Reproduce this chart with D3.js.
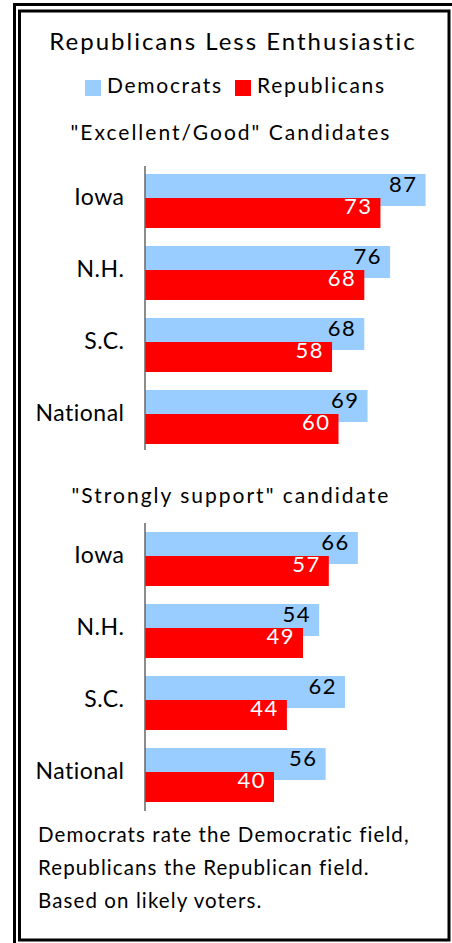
<!DOCTYPE html>
<html>
<head>
<meta charset="utf-8">
<script src="https://cdn.jsdelivr.net/npm/d3@7"></script>
<style>
  html, body { margin: 0; padding: 0; background: #fff; }
  svg { display: block; }
  text { font-family: Lato, "Open Sans", sans-serif; fill: #000; }
</style>
</head>
<body>
<svg id="chart" width="452" height="943"></svg>
<script>
// ---- Data ----
const title = "Republicans Less Enthusiastic";
const seriesNames = ["Democrats", "Republicans"];
const categories = ["Iowa", "N.H.", "S.C.", "National"];
const panelTitles = ["\"Excellent/Good\" Candidates", "\"Strongly support\" candidate"];
const excellentDem = [87, 76, 68, 69];
const excellentRep = [73, 68, 58, 60];
const stronglyDem = [66, 54, 62, 56];
const stronglyRep = [57, 49, 44, 40];
const notes = [
  "Democrats rate the Democratic field,",
  "Republicans the Republican field.",
  "Based on likely voters."
];

// ---- Layout / style ----
const colors = { Democrats: "#99CCFF", Republicans: "#FF0000" };
const labelColors = { Democrats: "#000", Republicans: "#fff" };
const svg = d3.select("#chart");

// Frame (double border)
svg.append("path")
  .attr("d", "M14.5,943 V4.5 H452")
  .attr("fill", "none").attr("stroke", "#000").attr("stroke-width", 3);
svg.append("rect")
  .attr("x", 19.5).attr("y", 11).attr("width", 429.5).attr("height", 929)
  .attr("fill", "#fff").attr("stroke", "#000").attr("stroke-width", 3);

// Title
svg.append("text")
  .attr("x", 233).attr("y", 50)
  .attr("text-anchor", "middle")
  .style("font-size", "24px")
  .style("letter-spacing", "2px")
  .text(title);

// Legend
const legendItems = [
  { name: seriesNames[0], x: 85 },
  { name: seriesNames[1], x: 235 }
];
const lg = svg.append("g");
legendItems.forEach(it => {
  lg.append("rect").attr("x", it.x).attr("y", 80).attr("width", 16).attr("height", 16)
    .attr("fill", colors[it.name]);
  lg.append("text").attr("x", it.x + 22).attr("y", 93)
    .style("font-size", "21px")
    .style("letter-spacing", "1.7px")
    .text(it.name);
});

// x scale shared
const x = d3.scaleLinear().domain([0, 100]).range([145, 467.5]);

const panels = [
  { title: panelTitles[0], titleY: 140, axisTop: 166, axisBottom: 450, bandTop: 170, dem: excellentDem, rep: excellentRep },
  { title: panelTitles[1], titleY: 503, axisTop: 523, axisBottom: 811, bandTop: 528, dem: stronglyDem, rep: stronglyRep }
];

panels.forEach(p => {
  const g = svg.append("g");
  g.append("text")
    .attr("x", 231).attr("y", p.titleY)
    .attr("text-anchor", "middle")
    .style("font-size", "21px")
    .style("letter-spacing", "2px")
    .text(p.title);

  const y = d3.scaleBand().domain(categories)
    .range([p.bandTop, p.bandTop + 72 * categories.length]);

  const rows = categories.map((c, i) => ({ cat: c, Democrats: p.dem[i], Republicans: p.rep[i] }));

  const series = [
    { name: "Democrats", off: 4, h: 32, labelOff: 22 },
    { name: "Republicans", off: 28, h: 30, labelOff: 44 }
  ];

  series.forEach(s => {
    g.selectAll(null).data(rows).enter().append("rect")
      .attr("x", x(0))
      .attr("y", d => y(d.cat) + s.off)
      .attr("width", d => x(d[s.name]) - x(0))
      .attr("height", s.h)
      .attr("fill", colors[s.name]);
  });
  series.forEach(s => {
    g.selectAll(null).data(rows).enter().append("text")
      .attr("x", d => x(d[s.name]) - 8)
      .attr("y", d => y(d.cat) + s.labelOff)
      .attr("text-anchor", "end")
      .style("font-size", "22px")
      .style("letter-spacing", "1.5px")
      .style("fill", labelColors[s.name])
      .text(d => d[s.name]);
  });

  // category labels
  g.selectAll(null).data(rows).enter().append("text")
    .attr("x", 124.5)
    .attr("y", d => y(d.cat) + 35)
    .attr("text-anchor", "end")
    .style("font-size", "23px")
    .style("letter-spacing", "0.5px")
    .text(d => d.cat);

  // axis line
  g.append("line")
    .attr("x1", x(0)).attr("x2", x(0))
    .attr("y1", p.axisTop).attr("y2", p.axisBottom)
    .attr("stroke", "#666").attr("stroke-width", 1.5);
});

// Notes
svg.selectAll(null).data(notes).enter().append("text")
  .attr("x", 38)
  .attr("y", (d, i) => 842 + i * 33)
  .style("font-size", "20.5px")
  .style("letter-spacing", "1.1px")
  .text(d => d);
</script>
</body>
</html>
